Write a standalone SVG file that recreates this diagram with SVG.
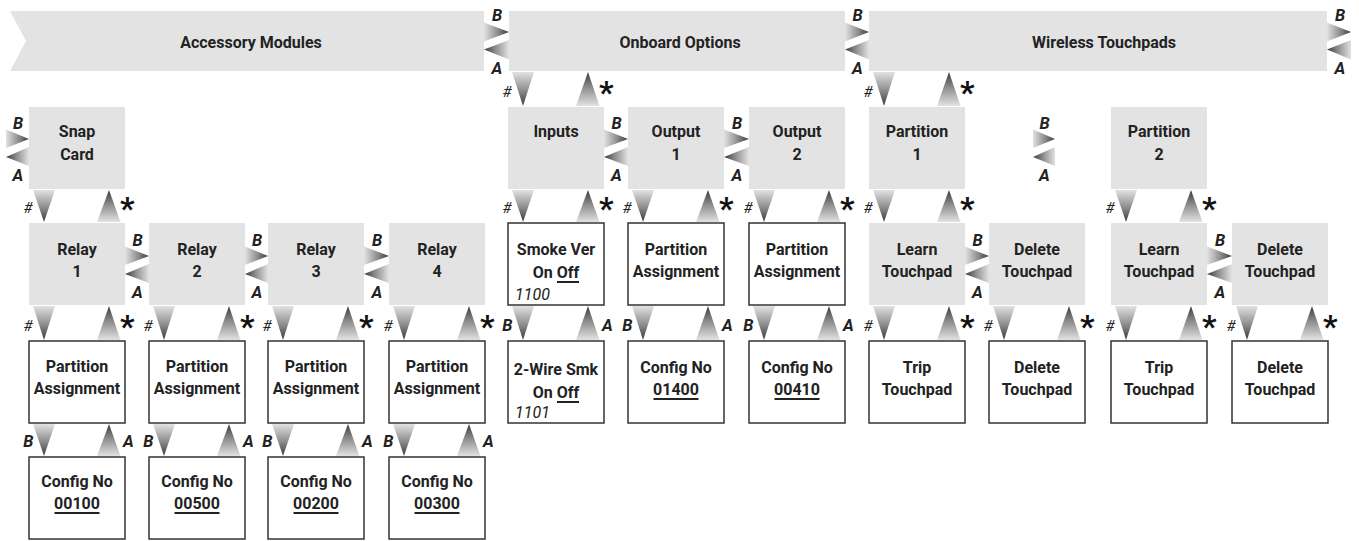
<svg xmlns="http://www.w3.org/2000/svg" width="1359" height="541" viewBox="0 0 1359 541">
<style>
.bg{fill:#ffffff}
.gray{fill:#e3e3e3}
.box{fill:#ffffff;stroke:#333333;stroke-width:1.5}
.t{font-family:Roboto,"Liberation Sans",sans-serif;font-weight:700;font-size:16px;fill:#222222;text-anchor:middle}
.it{font-family:Roboto,"Liberation Sans",sans-serif;font-style:italic;font-size:16px;fill:#222222}
.lbl{font-family:Roboto,"Liberation Sans",sans-serif;font-style:italic;font-weight:700;font-size:16.5px;fill:#222222}
.mid{text-anchor:middle}
.end{text-anchor:end}
.hash{font-family:Roboto,"Liberation Sans",sans-serif;font-style:italic;font-size:15px;fill:#222222;text-anchor:end}
.star{font-family:Roboto,"Liberation Sans",sans-serif;font-weight:700;font-size:32px;fill:#111111}
.ul{stroke:#222222;stroke-width:2}
.dn{fill:url(#gDown)}
.up{fill:url(#gUp)}
.rt{fill:url(#gRight)}
.lf{fill:url(#gLeft)}
</style>
<defs>
<linearGradient id="gDown" x1="0" y1="0" x2="0" y2="1"><stop offset="0" stop-color="#e2e2e2"/><stop offset="0.55" stop-color="#8c8c8c"/><stop offset="1" stop-color="#3a3a3a"/></linearGradient>
<linearGradient id="gUp" x1="0" y1="1" x2="0" y2="0"><stop offset="0" stop-color="#e2e2e2"/><stop offset="0.55" stop-color="#8c8c8c"/><stop offset="1" stop-color="#3a3a3a"/></linearGradient>
<linearGradient id="gRight" x1="0" y1="0" x2="1" y2="0"><stop offset="0" stop-color="#e2e2e2"/><stop offset="0.55" stop-color="#8c8c8c"/><stop offset="1" stop-color="#3a3a3a"/></linearGradient>
<linearGradient id="gLeft" x1="1" y1="0" x2="0" y2="0"><stop offset="0" stop-color="#e2e2e2"/><stop offset="0.55" stop-color="#8c8c8c"/><stop offset="1" stop-color="#3a3a3a"/></linearGradient>
</defs>
<rect class="bg" x="0" y="0" width="1359" height="541"/>

<!-- Banners -->
<g id="banner-accessory"><polygon class="gray" points="10,11 484,11 484,71 10,71 26,41"/><text class="t" x="251" y="48">Accessory Modules</text></g>
<g id="banner-onboard"><rect class="gray" x="509" y="11" width="336" height="60"/><text class="t" x="680" y="48">Onboard Options</text></g>
<g id="banner-wireless"><rect class="gray" x="869" y="11" width="458" height="60"/><text class="t" x="1104" y="48">Wireless Touchpads</text></g>

<!-- Accessory nodes -->
<g id="snap-card"><rect class="gray" x="29" y="107" width="96" height="82"/><text class="t" x="77" y="137">Snap</text><text class="t" x="77" y="160">Card</text></g>
<g id="relay-1"><rect class="gray" x="29" y="223" width="96" height="82"/><text class="t" x="77" y="255">Relay</text><text class="t" x="77" y="277">1</text></g>
<g id="relay-2"><rect class="gray" x="149" y="223" width="96" height="82"/><text class="t" x="197" y="255">Relay</text><text class="t" x="197" y="277">2</text></g>
<g id="relay-3"><rect class="gray" x="268" y="223" width="96" height="82"/><text class="t" x="316" y="255">Relay</text><text class="t" x="316" y="277">3</text></g>
<g id="relay-4"><rect class="gray" x="389" y="223" width="96" height="82"/><text class="t" x="437" y="255">Relay</text><text class="t" x="437" y="277">4</text></g>
<g id="relay-1-partition"><rect class="box" x="29" y="341" width="96" height="82"/><text class="t" x="77" y="372">Partition</text><text class="t" x="77" y="394">Assignment</text></g>
<g id="relay-2-partition"><rect class="box" x="149" y="341" width="96" height="82"/><text class="t" x="197" y="372">Partition</text><text class="t" x="197" y="394">Assignment</text></g>
<g id="relay-3-partition"><rect class="box" x="268" y="341" width="96" height="82"/><text class="t" x="316" y="372">Partition</text><text class="t" x="316" y="394">Assignment</text></g>
<g id="relay-4-partition"><rect class="box" x="389" y="341" width="96" height="82"/><text class="t" x="437" y="372">Partition</text><text class="t" x="437" y="394">Assignment</text></g>
<g id="relay-1-config"><rect class="box" x="29" y="457" width="96" height="82"/><text class="t" x="77" y="487">Config No</text><text class="t" x="77" y="509">00100</text><line class="ul" x1="54.5" y1="513" x2="99.5" y2="513"/></g>
<g id="relay-2-config"><rect class="box" x="149" y="457" width="96" height="82"/><text class="t" x="197" y="487">Config No</text><text class="t" x="197" y="509">00500</text><line class="ul" x1="174.5" y1="513" x2="219.5" y2="513"/></g>
<g id="relay-3-config"><rect class="box" x="268" y="457" width="96" height="82"/><text class="t" x="316" y="487">Config No</text><text class="t" x="316" y="509">00200</text><line class="ul" x1="293.5" y1="513" x2="338.5" y2="513"/></g>
<g id="relay-4-config"><rect class="box" x="389" y="457" width="96" height="82"/><text class="t" x="437" y="487">Config No</text><text class="t" x="437" y="509">00300</text><line class="ul" x1="414.5" y1="513" x2="459.5" y2="513"/></g>

<!-- Onboard nodes -->
<g id="inputs"><rect class="gray" x="508" y="107" width="96" height="82"/><text class="t" x="556" y="137">Inputs</text></g>
<g id="output-1"><rect class="gray" x="628" y="107" width="96" height="82"/><text class="t" x="676" y="137">Output</text><text class="t" x="676" y="160">1</text></g>
<g id="output-2"><rect class="gray" x="749" y="107" width="96" height="82"/><text class="t" x="797" y="137">Output</text><text class="t" x="797" y="160">2</text></g>
<g id="smoke-ver"><rect class="box" x="508" y="223" width="96" height="82"/><text class="t" x="556" y="255">Smoke Ver</text><text class="t" x="556" y="278">On Off</text><line class="ul" x1="557" y1="282" x2="579" y2="282"/><text class="it" x="515" y="300">1100</text></g>
<g id="output-1-partition"><rect class="box" x="628" y="223" width="96" height="82"/><text class="t" x="676" y="255">Partition</text><text class="t" x="676" y="277">Assignment</text></g>
<g id="output-2-partition"><rect class="box" x="749" y="223" width="96" height="82"/><text class="t" x="797" y="255">Partition</text><text class="t" x="797" y="277">Assignment</text></g>
<g id="two-wire-smk"><rect class="box" x="508" y="341" width="96" height="82"/><text class="t" x="556" y="375">2-Wire Smk</text><text class="t" x="556" y="398">On Off</text><line class="ul" x1="557" y1="402" x2="579" y2="402"/><text class="it" x="515" y="418">1101</text></g>
<g id="output-1-config"><rect class="box" x="628" y="341" width="96" height="82"/><text class="t" x="676" y="373">Config No</text><text class="t" x="676" y="395">01400</text><line class="ul" x1="653.5" y1="399" x2="698.5" y2="399"/></g>
<g id="output-2-config"><rect class="box" x="749" y="341" width="96" height="82"/><text class="t" x="797" y="373">Config No</text><text class="t" x="797" y="395">00410</text><line class="ul" x1="774.5" y1="399" x2="819.5" y2="399"/></g>

<!-- Wireless nodes -->
<g id="partition-1"><rect class="gray" x="869" y="107" width="96" height="82"/><text class="t" x="917" y="137">Partition</text><text class="t" x="917" y="160">1</text></g>
<g id="partition-2"><rect class="gray" x="1111" y="107" width="96" height="82"/><text class="t" x="1159" y="137">Partition</text><text class="t" x="1159" y="160">2</text></g>
<g id="learn-touchpad-1"><rect class="gray" x="869" y="223" width="96" height="82"/><text class="t" x="917" y="255">Learn</text><text class="t" x="917" y="277">Touchpad</text></g>
<g id="delete-touchpad-1"><rect class="gray" x="989" y="223" width="96" height="82"/><text class="t" x="1037" y="255">Delete</text><text class="t" x="1037" y="277">Touchpad</text></g>
<g id="learn-touchpad-2"><rect class="gray" x="1111" y="223" width="96" height="82"/><text class="t" x="1159" y="255">Learn</text><text class="t" x="1159" y="277">Touchpad</text></g>
<g id="delete-touchpad-2"><rect class="gray" x="1232" y="223" width="96" height="82"/><text class="t" x="1280" y="255">Delete</text><text class="t" x="1280" y="277">Touchpad</text></g>
<g id="trip-touchpad-1"><rect class="box" x="869" y="341" width="96" height="82"/><text class="t" x="917" y="373">Trip</text><text class="t" x="917" y="395">Touchpad</text></g>
<g id="delete-touchpad-1b"><rect class="box" x="989" y="341" width="96" height="82"/><text class="t" x="1037" y="373">Delete</text><text class="t" x="1037" y="395">Touchpad</text></g>
<g id="trip-touchpad-2"><rect class="box" x="1111" y="341" width="96" height="82"/><text class="t" x="1159" y="373">Trip</text><text class="t" x="1159" y="395">Touchpad</text></g>
<g id="delete-touchpad-2b"><rect class="box" x="1232" y="341" width="96" height="82"/><text class="t" x="1280" y="373">Delete</text><text class="t" x="1280" y="395">Touchpad</text></g>

<!-- Connectors -->
<g id="connectors">
<!-- banner horizontal B/A -->
<polygon class="rt" points="484,22.5 484,41.5 509,32"/><polygon class="lf" points="509,40 509,59.5 484,49.5"/>
<text class="lbl mid" x="497" y="20.5">B</text><text class="lbl mid" x="497" y="74">A</text>
<polygon class="rt" points="845,22.5 845,41.5 869,32"/><polygon class="lf" points="869,40 869,59.5 845,49.5"/>
<text class="lbl mid" x="857.5" y="20.5">B</text><text class="lbl mid" x="857.5" y="74">A</text>
<polygon class="rt" points="1327,22.5 1327,41.5 1351,32"/><polygon class="lf" points="1351,40 1351,59.5 1327,49.5"/>
<text class="lbl mid" x="1340" y="20.5">B</text><text class="lbl mid" x="1340" y="74">A</text>

<!-- row 1 horizontal -->
<polygon class="rt" points="6,129.5 6,148 29,139"/><polygon class="lf" points="29,147 29,166 6,157"/>
<text class="lbl mid" x="18" y="129">B</text><text class="lbl mid" x="18" y="181">A</text>
<polygon class="rt" points="604,129.5 604,148 628,139"/><polygon class="lf" points="628,147 628,166 604,157"/>
<text class="lbl mid" x="616.5" y="129">B</text><text class="lbl mid" x="616.5" y="181">A</text>
<polygon class="rt" points="724,129.5 724,148 749,139"/><polygon class="lf" points="749,147 749,166 724,157"/>
<text class="lbl mid" x="737" y="129">B</text><text class="lbl mid" x="737" y="181">A</text>
<polygon class="rt" points="1033,129.5 1033,148 1055,139"/><polygon class="lf" points="1055,147 1055,166 1033,157"/>
<text class="lbl mid" x="1044.5" y="129">B</text><text class="lbl mid" x="1044.5" y="181">A</text>

<!-- row 2 horizontal -->
<polygon class="rt" points="125,246.5 125,265 149,256"/><polygon class="lf" points="149,264 149,283 125,274"/>
<text class="lbl mid" x="137.5" y="246">B</text><text class="lbl mid" x="137.5" y="298">A</text>
<polygon class="rt" points="245,246.5 245,265 268,256"/><polygon class="lf" points="268,264 268,283 245,274"/>
<text class="lbl mid" x="257" y="246">B</text><text class="lbl mid" x="257" y="298">A</text>
<polygon class="rt" points="364,246.5 364,265 389,256"/><polygon class="lf" points="389,264 389,283 364,274"/>
<text class="lbl mid" x="377" y="246">B</text><text class="lbl mid" x="377" y="298">A</text>
<polygon class="rt" points="965,246.5 965,265 989,256"/><polygon class="lf" points="989,264 989,283 965,274"/>
<text class="lbl mid" x="977.5" y="246">B</text><text class="lbl mid" x="977.5" y="298">A</text>
<polygon class="rt" points="1207,246.5 1207,265 1232,256"/><polygon class="lf" points="1232,264 1232,283 1207,274"/>
<text class="lbl mid" x="1220" y="246">B</text><text class="lbl mid" x="1220" y="298">A</text>

<!-- G0: banner to row 1 -->
<polygon class="dn" points="512,72 534,72 523,106"/><polygon class="up" points="576,106 599.5,106 588,72"/>
<text class="hash" x="511.5" y="97">#</text><text class="star" x="599" y="103">*</text>
<polygon class="dn" points="873,72 895,72 884,106"/><polygon class="up" points="937,106 960.5,106 949,72"/>
<text class="hash" x="872.5" y="97">#</text><text class="star" x="960" y="103">*</text>

<!-- G1: row 1 to row 2 -->
<polygon class="dn" points="33,190 55,190 44,222"/><polygon class="up" points="97,222 120.5,222 109,190"/>
<text class="hash" x="32.5" y="213">#</text><text class="star" x="120" y="219">*</text>
<polygon class="dn" points="512,190 534,190 523,222"/><polygon class="up" points="576,222 599.5,222 588,190"/>
<text class="hash" x="511.5" y="213">#</text><text class="star" x="599" y="219">*</text>
<polygon class="dn" points="632,190 654,190 643,222"/><polygon class="up" points="696,222 719.5,222 708,190"/>
<text class="hash" x="631.5" y="213">#</text><text class="star" x="719" y="219">*</text>
<polygon class="dn" points="753,190 775,190 764,222"/><polygon class="up" points="817,222 840.5,222 829,190"/>
<text class="hash" x="752.5" y="213">#</text><text class="star" x="840" y="219">*</text>
<polygon class="dn" points="873,190 895,190 884,222"/><polygon class="up" points="937,222 960.5,222 949,190"/>
<text class="hash" x="872.5" y="213">#</text><text class="star" x="960" y="219">*</text>
<polygon class="dn" points="1115,190 1137,190 1126,222"/><polygon class="up" points="1179,222 1202.5,222 1191,190"/>
<text class="hash" x="1114.5" y="213">#</text><text class="star" x="1202" y="219">*</text>

<!-- G2: row 2 to row 3 -->
<polygon class="dn" points="33,306 55,306 44,340"/><polygon class="up" points="97,340 120.5,340 109,306"/>
<text class="hash" x="32.5" y="331">#</text><text class="star" x="120" y="337">*</text>
<polygon class="dn" points="153,306 175,306 164,340"/><polygon class="up" points="217,340 240.5,340 229,306"/>
<text class="hash" x="152.5" y="331">#</text><text class="star" x="240" y="337">*</text>
<polygon class="dn" points="272,306 294,306 283,340"/><polygon class="up" points="336,340 359.5,340 348,306"/>
<text class="hash" x="271.5" y="331">#</text><text class="star" x="359" y="337">*</text>
<polygon class="dn" points="393,306 415,306 404,340"/><polygon class="up" points="457,340 480.5,340 469,306"/>
<text class="hash" x="392.5" y="331">#</text><text class="star" x="480" y="337">*</text>
<polygon class="dn" points="512,306 534,306 523,340"/><polygon class="up" points="576,340 599.5,340 588,306"/>
<text class="lbl end" x="512.5" y="331">B</text><text class="lbl" x="602" y="331">A</text>
<polygon class="dn" points="632,306 654,306 643,340"/><polygon class="up" points="696,340 719.5,340 708,306"/>
<text class="lbl end" x="632.5" y="331">B</text><text class="lbl" x="722" y="331">A</text>
<polygon class="dn" points="753,306 775,306 764,340"/><polygon class="up" points="817,340 840.5,340 829,306"/>
<text class="lbl end" x="753.5" y="331">B</text><text class="lbl" x="843" y="331">A</text>
<polygon class="dn" points="873,306 895,306 884,340"/><polygon class="up" points="937,340 960.5,340 949,306"/>
<text class="hash" x="872.5" y="331">#</text><text class="star" x="960" y="337">*</text>
<polygon class="dn" points="993,306 1015,306 1004,340"/><polygon class="up" points="1057,340 1080.5,340 1069,306"/>
<text class="hash" x="992.5" y="331">#</text><text class="star" x="1080" y="337">*</text>
<polygon class="dn" points="1115,306 1137,306 1126,340"/><polygon class="up" points="1179,340 1202.5,340 1191,306"/>
<text class="hash" x="1114.5" y="331">#</text><text class="star" x="1202" y="337">*</text>
<polygon class="dn" points="1236,306 1258,306 1247,340"/><polygon class="up" points="1300,340 1323.5,340 1312,306"/>
<text class="hash" x="1235.5" y="331">#</text><text class="star" x="1323" y="337">*</text>

<!-- G3: row 3 to row 4 -->
<polygon class="dn" points="33,424 55,424 44,456"/><polygon class="up" points="97,456 120.5,456 109,424"/>
<text class="lbl end" x="33.5" y="447">B</text><text class="lbl" x="123" y="447">A</text>
<polygon class="dn" points="153,424 175,424 164,456"/><polygon class="up" points="217,456 240.5,456 229,424"/>
<text class="lbl end" x="153.5" y="447">B</text><text class="lbl" x="243" y="447">A</text>
<polygon class="dn" points="272,424 294,424 283,456"/><polygon class="up" points="336,456 359.5,456 348,424"/>
<text class="lbl end" x="272.5" y="447">B</text><text class="lbl" x="362" y="447">A</text>
<polygon class="dn" points="393,424 415,424 404,456"/><polygon class="up" points="457,456 480.5,456 469,424"/>
<text class="lbl end" x="393.5" y="447">B</text><text class="lbl" x="483" y="447">A</text>
</g>
</svg>
